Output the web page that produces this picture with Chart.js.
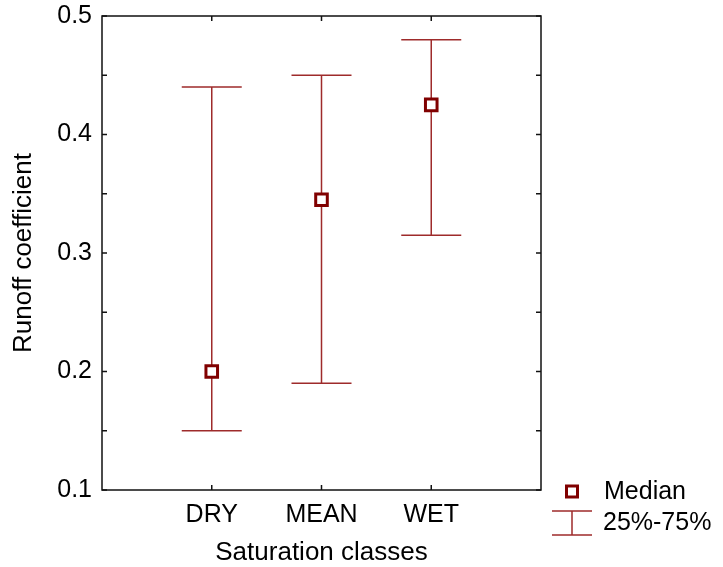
<!DOCTYPE html>
<html>
<head>
<meta charset="utf-8">
<script src="https://cdn.jsdelivr.net/npm/chart.js@4/dist/chart.umd.min.js"></script>
<style>
  html, body { margin: 0; padding: 0; background: #fff; }
  #wrap { width: 723px; height: 567px; }
</style>
</head>
<body>
<div id="wrap"><canvas id="chart" width="723" height="567"></canvas></div>
<script>
const classes = ['DRY', 'MEAN', 'WET'];
const medians = [0.2, 0.345, 0.425];
const q25 = [0.15, 0.19, 0.315];
const q75 = [0.44, 0.45, 0.48];

const FONT = '"Liberation Sans", Arial, sans-serif';
const BAR_COLOR = '#9e2b2b';
const MARK_COLOR = '#800000';

// whiskers for the 25%-75% range, drawn under the median markers
const rangeBars = {
  id: 'rangeBars',
  beforeDatasetsDraw(chart) {
    const { ctx, scales: { x, y } } = chart;
    const capHalf = 30;
    ctx.save();
    ctx.strokeStyle = BAR_COLOR;
    ctx.lineWidth = 1.5;
    classes.forEach((c, i) => {
      const px = x.getPixelForValue(i + 1);
      const top = y.getPixelForValue(q75[i]);
      const bot = y.getPixelForValue(q25[i]);
      ctx.beginPath();
      ctx.moveTo(px, top); ctx.lineTo(px, bot);
      ctx.moveTo(px - capHalf, top); ctx.lineTo(px + capHalf, top);
      ctx.moveTo(px - capHalf, bot); ctx.lineTo(px + capHalf, bot);
      ctx.stroke();
    });
    ctx.restore();
  }
};

// box around the plot with inward tick marks on all four sides
const frameTicks = {
  id: 'frameTicks',
  afterDraw(chart) {
    const { ctx, chartArea: a, scales: { x, y } } = chart;
    const len = 5;
    ctx.save();
    ctx.strokeStyle = '#111';
    ctx.lineWidth = 1.5;
    ctx.strokeRect(a.left, a.top, a.right - a.left, a.bottom - a.top);
    ctx.beginPath();
    y.ticks.forEach(t => {
      const py = y.getPixelForValue(t.value);
      ctx.moveTo(a.left, py); ctx.lineTo(a.left + len, py);
      ctx.moveTo(a.right, py); ctx.lineTo(a.right - len, py);
    });
    classes.forEach((c, i) => {
      const px = x.getPixelForValue(i + 1);
      ctx.moveTo(px, a.bottom); ctx.lineTo(px, a.bottom - len);
      ctx.moveTo(px, a.top); ctx.lineTo(px, a.top + len);
    });
    ctx.stroke();
    ctx.restore();
  }
};

// legend on the lower right, outside the plot
const sideLegend = {
  id: 'sideLegend',
  afterDraw(chart) {
    const { ctx, chartArea: a } = chart;
    const ix = a.right + 31;
    const tx = a.right + 63;
    ctx.save();
    ctx.strokeStyle = MARK_COLOR;
    ctx.fillStyle = '#fff';
    ctx.lineWidth = 3;
    ctx.fillRect(ix - 5.5, a.bottom + 1.5 - 5.5, 11, 11);
    ctx.strokeRect(ix - 5.5, a.bottom + 1.5 - 5.5, 11, 11);

    ctx.strokeStyle = BAR_COLOR;
    ctx.lineWidth = 1.5;
    ctx.beginPath();
    ctx.moveTo(ix - 20, a.bottom + 21); ctx.lineTo(ix + 20, a.bottom + 21);
    ctx.moveTo(ix - 20, a.bottom + 45); ctx.lineTo(ix + 20, a.bottom + 45);
    ctx.moveTo(ix, a.bottom + 21); ctx.lineTo(ix, a.bottom + 45);
    ctx.stroke();

    ctx.fillStyle = '#000';
    ctx.font = '25px ' + FONT;
    ctx.textBaseline = 'middle';
    ctx.textAlign = 'left';
    ctx.fillText('Median', tx, a.bottom + 2);
    ctx.fillText('25%-75%', tx - 1, a.bottom + 33);
    ctx.restore();
  }
};

new Chart(document.getElementById('chart'), {
  type: 'scatter',
  data: {
    datasets: [{
      label: 'Median',
      data: medians.map((m, i) => ({ x: i + 1, y: m })),
      pointStyle: 'rect',
      pointRadius: 8.2,
      pointHoverRadius: 8.2,
      borderWidth: 3,
      borderColor: MARK_COLOR,
      backgroundColor: '#fff'
    }]
  },
  options: {
    responsive: false,
    animation: false,
    layout: { padding: { top: 16, right: 182, left: 0, bottom: 0 } },
    plugins: { legend: { display: false }, tooltip: { enabled: false } },
    scales: {
      x: {
        type: 'linear',
        min: 0,
        max: 4,
        afterBuildTicks: s => { s.ticks = classes.map((c, i) => ({ value: i + 1 })); },
        afterFit: s => { s.height = 77; s.paddingLeft = 0; s.paddingRight = 0; },
        grid: { display: false, drawTicks: false },
        border: { display: false },
        ticks: {
          padding: 10,
          color: '#000',
          font: { family: FONT, size: 25 },
          maxRotation: 0,
          callback: v => classes[v - 1] || ''
        },
        title: {
          display: true,
          text: 'Saturation classes',
          color: '#000',
          font: { family: FONT, size: 26, lineHeight: 1 },
          padding: { top: 0, bottom: 1 }
        }
      },
      y: {
        min: 0.1,
        max: 0.5,
        afterFit: s => { s.width = 102; s.paddingTop = 0; s.paddingBottom = 0; },
        grid: { display: false, drawTicks: false },
        border: { display: false },
        ticks: {
          stepSize: 0.05,
          padding: 10,
          color: '#000',
          font: { family: FONT, size: 25 },
          callback: v => {
            const r = Math.round(v * 100);
            return r % 10 === 0 ? (r / 100).toFixed(1) : '';
          }
        },
        title: {
          display: true,
          text: 'Runoff coefficient',
          color: '#000',
          font: { family: FONT, size: 26, lineHeight: 1 },
          padding: { top: 11, bottom: 0 }
        }
      }
    }
  },
  plugins: [rangeBars, frameTicks, sideLegend]
});
</script>
</body>
</html>
